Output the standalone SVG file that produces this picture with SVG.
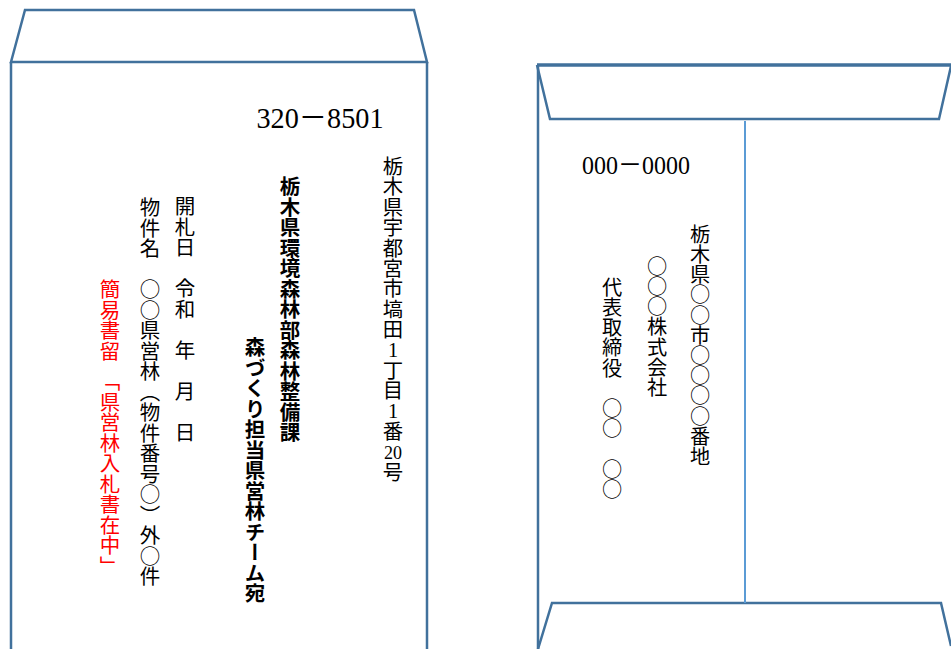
<svg xmlns="http://www.w3.org/2000/svg" width="951" height="649" viewBox="0 0 951 649">
<style>
.edge{fill:none;stroke:#41719C;stroke-width:2.5;stroke-linejoin:miter}
.fold{fill:none;stroke:#5B9BD5;stroke-width:2}
.v{writing-mode:vertical-rl;font-family:"Noto Sans CJK JP","Noto Sans CJK SC",sans-serif;font-size:20.5px;fill:#000}
.vr{font-size:20.2px}
.b{font-weight:bold}
.red{fill:#FF0000}
.num{font-family:"Liberation Serif","Noto Sans CJK JP",serif;fill:#000}
</style>
<rect x="0" y="0" width="951" height="649" fill="#FFFFFF"/>
<g id="front-envelope">
  <path class="edge" d="M11,62 L25,10 L414,10 L427,62 Z"/>
  <path class="edge" d="M11,62 L11,652 M427,62 L427,652"/>
</g>
<g id="back-envelope">
  <path class="edge" d="M538,652 L538,65" />
  <path class="edge" style="stroke-width:3.5" d="M537,65 L953,65"/>
  <path class="edge" d="M537,65 L550,119 L939,119 L951,66"/>
  <path class="edge" d="M538,649 L552,603 L941,603 L951,646"/>
</g>
<g id="connectors">
  <path class="fold" d="M745,121 L745,603"/>
</g>
<g id="front-text">
  <text class="num" x="320" y="128" font-size="30" text-anchor="middle" textLength="127" lengthAdjust="spacingAndGlyphs">320－8501</text>
  <g id="addr-to">
    <text class="v" x="393" y="156" style="font-size:20.4px">栃木県宇都宮市塙田</text>
    <text class="num" x="393" y="356.8" font-size="20.4" text-anchor="middle">1</text>
    <text class="v" x="393" y="360" style="font-size:20.4px">丁目</text>
    <text class="num" x="393" y="418" font-size="20.4" text-anchor="middle">1</text>
    <text class="v" x="393" y="421.2" style="font-size:20.4px">番</text>
    <text class="num" x="393" y="459" font-size="19" text-anchor="middle" textLength="18" lengthAdjust="spacingAndGlyphs">20</text>
    <text class="v" x="393" y="462" style="font-size:20.4px">号</text>
  </g>
  <text id="dept" class="v b" x="290" y="176">栃木県環境森林部森林整備課</text>
  <text id="team" class="v b" x="255" y="337">森づくり担当県営林チーム宛</text>
  <text id="date" class="v" x="185" y="196">開札日　令和　年　月　日</text>
  <text id="item" class="v" x="150" y="197">物件名　○○県営林（物件番号○）外○件</text>
  <text id="note" class="v red" x="110" y="279">簡易書留　「県営林入札書在中」</text>
</g>
<g id="back-text">
  <text class="num" x="636" y="174" font-size="26" text-anchor="middle" textLength="108" lengthAdjust="spacingAndGlyphs">000－0000</text>
  <text id="addr-from" class="v vr" x="700" y="224">栃木県○○市○○○○番地</text>
  <text id="company" class="v vr" x="657" y="256">○○○株式会社</text>
  <text id="rep" class="v vr" x="612" y="277">代表取締役　○○　○○</text>
</g>
</svg>
